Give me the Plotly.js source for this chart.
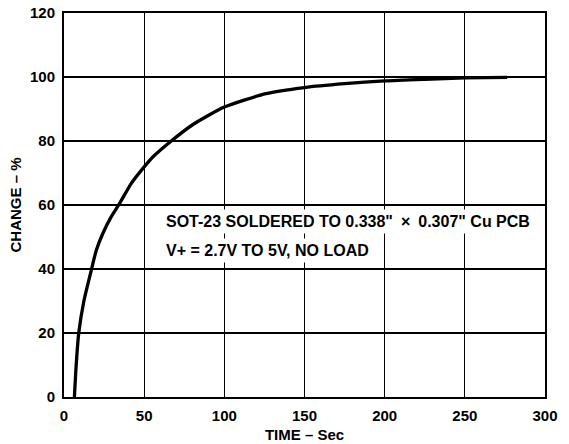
<!DOCTYPE html>
<html>
<head>
<meta charset="utf-8">
<script src="https://cdn.plot.ly/plotly-3.0.1.min.js"></script>
<style>
html,body{margin:0;padding:0;background:#fff;}
#chart{width:569px;height:444px;}
</style>
</head>
<body>
<div id="chart"></div>
<script>
const timeSec = [6.5, 7.6, 9.2, 12.4, 17.0, 20.1, 24.2, 29.4, 34.2, 41.9, 50, 55.4, 66.9, 80, 100, 126, 150, 175, 200, 225, 250, 276.4];
const changePct = [0, 10, 20, 30, 39.6, 45.8, 51.1, 56.3, 60.1, 66.7, 71.9, 75, 80, 85, 90.6, 94.8, 96.7, 97.9, 98.8, 99.3, 99.7, 99.9];
const xTicks = [0, 50, 100, 150, 200, 250, 300];
const yTicks = [0, 20, 40, 60, 80, 100, 120];
const noteLines = ['SOT-23 SOLDERED TO 0.338"\u2002\u00D7\u20020.307" Cu PCB', 'V+ = 2.7V TO 5V, NO LOAD'];

const font = 'Liberation Sans, Arial, Helvetica, sans-serif';

const trace = {
  x: timeSec, y: changePct, type: 'scatter', mode: 'lines',
  line: {color: '#000', width: 3.3, shape: 'spline', smoothing: 0.6},
  hoverinfo: 'skip'
};

const layout = {
  width: 569, height: 444,
  margin: {l: 64, r: 24, t: 13, b: 47},
  paper_bgcolor: '#fff', plot_bgcolor: '#fff',
  showlegend: false,
  font: {family: font, color: '#000', size: 15, weight: 700},
  xaxis: {
    range: [0, 300], tickvals: xTicks, ticktext: xTicks.map(String),
    showgrid: true, gridcolor: '#000', gridwidth: 1.3,
    showline: true, linecolor: '#000', linewidth: 2, mirror: true,
    zeroline: false, ticks: '', ticklabelstandoff: 4,
    tickfont: {family: font, size: 15, weight: 700, color: '#000'},
    title: {text: 'TIME \u2013 Sec', font: {family: font, size: 15, weight: 700, color: '#000'}, standoff: 6}
  },
  yaxis: {
    range: [0, 120], tickvals: yTicks, ticktext: yTicks.map(String),
    showgrid: true, gridcolor: '#000', gridwidth: 1.3,
    showline: true, linecolor: '#000', linewidth: 2, mirror: true,
    zeroline: false, ticks: '', ticklabelstandoff: 4,
    tickfont: {family: font, size: 15, weight: 700, color: '#000'},
    title: {text: 'CHANGE \u2013 %', font: {family: font, size: 15, weight: 700, color: '#000'}, standoff: 5}
  },
  annotations: [
    {xref: 'x', yref: 'y', x: 61.4, y: 54.9, xanchor: 'left', yanchor: 'middle',
     text: noteLines[0], showarrow: false, bgcolor: '#fff', borderpad: 3,
     font: {family: font, size: 16, weight: 700, color: '#000'}},
    {xref: 'x', yref: 'y', x: 61.4, y: 45.8, xanchor: 'left', yanchor: 'middle',
     text: noteLines[1], showarrow: false, bgcolor: '#fff', borderpad: 3,
     font: {family: font, size: 16, weight: 700, color: '#000'}}
  ]
};

Plotly.newPlot('chart', [trace], layout, {displayModeBar: false, staticPlot: true});
</script>
</body>
</html>
